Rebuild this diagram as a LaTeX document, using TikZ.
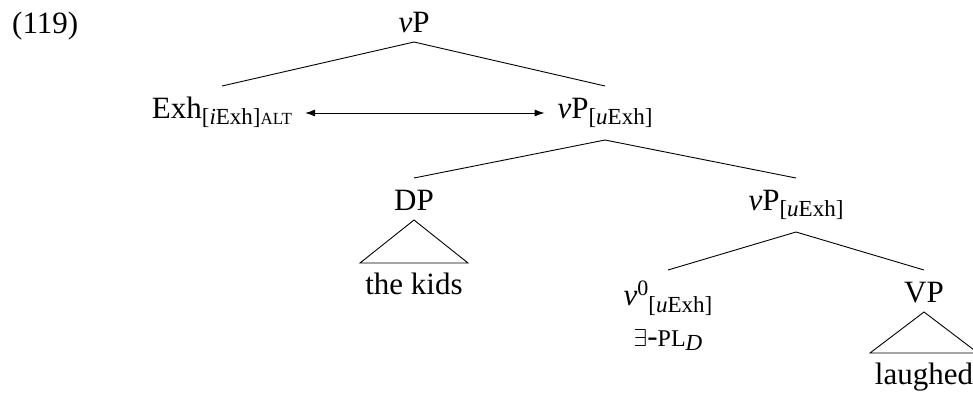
\documentclass[tikz,border=0pt]{standalone}
\usepackage{graphicx}
\usepackage{fontspec}
\setmainfont{Liberation Serif}
\usetikzlibrary{arrows.meta}
% lowered / raised feature text and hand-made small capitals
\newcommand{\subtxt}[1]{\raisebox{-6.5pt}{\fontsize{23}{23}\selectfont #1}}
\newcommand{\suptxt}[1]{\raisebox{10pt}{\fontsize{22}{22}\selectfont #1}}
\newcommand{\fakesc}[2]{{\fontsize{#1}{#1}\selectfont #2}}
\begin{document}
\begin{tikzpicture}[x=1pt,y=-1pt,
  font=\fontsize{31}{37}\selectfont,
  lab/.style={anchor=base, inner sep=0pt, outer xsep=0pt, outer ysep=10pt,
              text height=22pt, text depth=0pt},
  feat/.style={lab, text depth=12pt},
  leaf/.style={anchor=base, inner sep=0pt, outer ysep=10pt, text height=21pt},
  branch/.style={line width=0.9pt},
  link/.style={line width=0.9pt,
               {Latex[length=10pt,width=7pt]}-{Latex[length=10pt,width=7pt]}}
]
\useasboundingbox (0,0) rectangle (973,394);

% example number
\node[anchor=base west, inner sep=0pt] (num) at (12,33) {(119)};

% tree labels
\node[lab] (root) at (414,32) {\textit{v}P};
\node[feat, outer xsep=13pt] (exh) at (222,118)
  {Exh\subtxt{[\textit{i}Exh]\fakesc{17}{ALT}}};
\node[feat, outer xsep=13pt] (vp1) at (605,118)
  {\textit{v}P\subtxt{[\textit{u}Exh]}};
\node[lab] (dp) at (414,210) {DP};
\node[feat] (vp2) at (796,210) {\textit{v}P\subtxt{[\textit{u}Exh]}};
\node[lab, text height=25pt] (v0) at (668,305)
  {\textit{v}\suptxt{0}\raisebox{-7pt}{\fontsize{23}{23}\selectfont[\textit{u}Exh]}};
\node[anchor=base, inner sep=0pt] (pl) at (668,346)
  {\resizebox{!}{17pt}{$\exists$}-\fakesc{24}{PL}\raisebox{-4pt}{\fontsize{23}{23}\selectfont\textit{D}}};
\node[lab] (vpl) at (924,302) {VP};
\node[leaf] (kids) at (414,294) {the kids};
\node[leaf] (laughed) at (924,384) {laughed};

% branches
\draw[branch] (exh.north) -- (root.south) -- (vp1.north);
\draw[branch] (dp.north) -- (vp1.south) -- (vp2.north);
\draw[branch] (v0.north) -- (vp2.south) -- (vpl.north);

% roof triangles
\draw[branch] (dp.south) -- ([xshift=-54pt]kids.north)
  -- ([xshift=54pt]kids.north) -- cycle;
\draw[branch] (vpl.south) -- ([xshift=-54pt]laughed.north)
  -- ([xshift=54pt]laughed.north) -- cycle;

% agreement link
\draw[link] (exh.east) -- (vp1.west);
\end{tikzpicture}
\end{document}
